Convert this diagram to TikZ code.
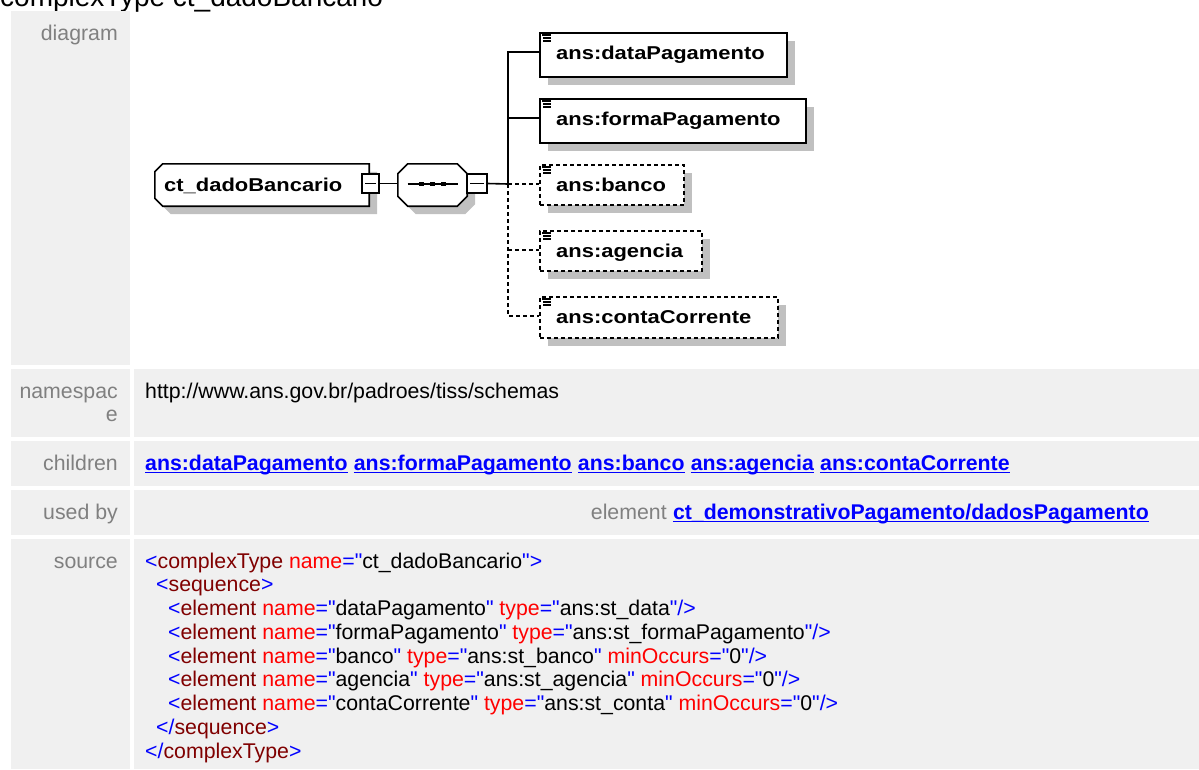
\documentclass[tikz,border=0pt]{standalone}
\usepackage{fontspec}
\setmainfont{Liberation Sans}
\newfontfamily\srcfont{Liberation Sans}
\newfontfamily\diagfont[FakeStretch=1.18]{Liberation Sans}
\usetikzlibrary{shadows,calc}
\definecolor{cellgray}{HTML}{F0F0F0}
\definecolor{labgray}{HTML}{808080}
\definecolor{shadowgray}{HTML}{C0C0C0}
\definecolor{linkblue}{HTML}{0000FF}
\definecolor{elemred}{HTML}{800000}
\definecolor{attred}{HTML}{FF0000}
\newcommand\htmlsize{\fontsize{21.3}{23.75}\selectfont}
\newcommand\srcm[1]{\textcolor{linkblue}{#1}}
\newcommand\srce[1]{\textcolor{elemred}{#1}}
\newcommand\srca[1]{\textcolor{attred}{#1}}
\newcommand\srcv[1]{\textcolor{black}{#1}}
\tikzset{
  lab/.style={anchor=base east, inner sep=0, text=labgray, font=\htmlsize},
  txt/.style={anchor=base west, inner sep=0, font=\htmlsize},
  srctxt/.style={anchor=base west, inner sep=0, font=\srcfont\htmlsize},
  link/.style={anchor=base west, inner sep=0, text=linkblue, font=\htmlsize\bfseries},
  ul/.style={draw=linkblue, line width=1.4pt},
  shad/.style={general shadow={fill=shadowgray, shadow xshift=8pt, shadow yshift=-8pt}},
  outline/.style={draw=black, fill=white, line width=1.6pt, shad},
  elem/.style={rectangle, draw=black, fill=white, line width=1.6pt, inner sep=0, anchor=north west, shad},
  optelem/.style={elem, dash pattern=on 4pt off 3pt},
  dtext/.style={anchor=base west, inner sep=0, font=\diagfont\fontsize{18.6}{20}\selectfont\bfseries},
  conn/.style={draw=black, line width=1.6pt},
  optconn/.style={conn, dash pattern=on 4pt off 3pt},
  area/.style={rectangle, inner sep=0},
  minusbox/.style={rectangle, draw=black, fill=white, line width=1.3pt, inner sep=0,
    minimum width=17pt, minimum height=19pt,
    path picture={\draw[line width=1.3pt] ([xshift=3pt]path picture bounding box.west) -- ([xshift=-3pt]path picture bounding box.east);}},
  icon/.style={line width=1.3pt, draw=black},
}
\begin{document}
\begin{tikzpicture}[x=1pt, y=-1pt]
\useasboundingbox (0,0) rectangle (1199,769);
\clip (0,0) rectangle (1199,769);
% title (cut off at the top edge, as in the reference)
\node[anchor=base west, inner sep=0, font=\fontsize{28}{30}\selectfont] (title) at (0,6) {complexType ct\_dadoBancario};
% table cells
\fill[cellgray] (11,11) rectangle (130,365);
\fill[cellgray] (11,369) rectangle (130,437);
\fill[cellgray] (134,369) rectangle (1199,437);
\fill[cellgray] (11,441) rectangle (130,486);
\fill[cellgray] (134,441) rectangle (1199,486);
\fill[cellgray] (11,490) rectangle (130,535);
\fill[cellgray] (134,490) rectangle (1199,535);
\fill[cellgray] (11,539) rectangle (130,769);
\fill[cellgray] (134,539) rectangle (1199,769);
% labels
\node[lab] (l1) at (118,40.5) {diagram};
\node[lab] (l2a) at (118,398) {namespac};
\node[lab] (l2b) at (118,421.5) {e};
\node[lab] (l3) at (118,470) {children};
\node[lab] (l4) at (118,519) {used by};
\node[lab] (l5) at (118,568) {source};
% namespace
\node[txt] (ns) at (145,398) {http://www.ans.gov.br/padroes/tiss/schemas};
% children
\node[link] (c1) at (145,470) {ans:dataPagamento};
\node[link] (c2) at ([xshift=5.9pt]c1.base east) {ans:formaPagamento};
\node[link] (c3) at ([xshift=5.9pt]c2.base east) {ans:banco};
\node[link] (c4) at ([xshift=5.9pt]c3.base east) {ans:agencia};
\node[link] (c5) at ([xshift=5.9pt]c4.base east) {ans:contaCorrente};
% used by
\node[link, anchor=base east] (ub) at (1149,519) {ct\_demonstrativoPagamento/dadosPagamento};
\node[lab] (ube) at ([xshift=-5.9pt]ub.base west) {element};
\foreach \n in {c1,c2,c3,c4,c5,ub}
  \draw[ul] ([yshift=-2.6pt]\n.base west) -- ([yshift=-2.6pt]\n.base east);
% source
\node[srctxt] (s1) at (145,568) {\srcm{<}\srce{complexType}\ \srca{name}\srcm{="}\srcv{ct\_dadoBancario}\srcm{">}};
\node[srctxt] (s2) at (156,591.75) {\srcm{<}\srce{sequence}\srcm{>}};
\node[srctxt] (s3) at (168,615.5) {\srcm{<}\srce{element}\ \srca{name}\srcm{="}\srcv{dataPagamento}\srcm{"}\ \srca{type}\srcm{="}\srcv{ans:st\_data}\srcm{"/>}};
\node[srctxt] (s4) at (168,639.25) {\srcm{<}\srce{element}\ \srca{name}\srcm{="}\srcv{formaPagamento}\srcm{"}\ \srca{type}\srcm{="}\srcv{ans:st\_formaPagamento}\srcm{"/>}};
\node[srctxt] (s5) at (168,663) {\srcm{<}\srce{element}\ \srca{name}\srcm{="}\srcv{banco}\srcm{"}\ \srca{type}\srcm{="}\srcv{ans:st\_banco}\srcm{"}\ \srca{minOccurs}\srcm{="}\srcv{0}\srcm{"/>}};
\node[srctxt] (s6) at (168,686.75) {\srcm{<}\srce{element}\ \srca{name}\srcm{="}\srcv{agencia}\srcm{"}\ \srca{type}\srcm{="}\srcv{ans:st\_agencia}\srcm{"}\ \srca{minOccurs}\srcm{="}\srcv{0}\srcm{"/>}};
\node[srctxt] (s7) at (168,710.5) {\srcm{<}\srce{element}\ \srca{name}\srcm{="}\srcv{contaCorrente}\srcm{"}\ \srca{type}\srcm{="}\srcv{ans:st\_conta}\srcm{"}\ \srca{minOccurs}\srcm{="}\srcv{0}\srcm{"/>}};
\node[srctxt] (s8) at (156,734.25) {\srcm{</}\srce{sequence}\srcm{>}};
\node[srctxt] (s9) at (145,758) {\srcm{</}\srce{complexType}\srcm{>}};
% ===== diagram =====
\node[area, minimum width=214pt, minimum height=42pt] (ct) at (262,185) {};
\path[outline] ([xshift=8pt]ct.north west) -- (ct.north east) -- (ct.south east)
  -- ([xshift=8pt]ct.south west) -- ([yshift=8pt]ct.south west) -- ([yshift=-8pt]ct.north west) -- cycle;
\node[dtext] (ctl) at (164,191) {ct\_dadoBancario};
\node[minusbox] (ctm) at (370.5,183.5) {};
\node[area, minimum width=69pt, minimum height=42pt] (seq) at (432.5,185) {};
\path[outline] ([xshift=10pt]seq.north west) -- ([xshift=-10pt]seq.north east) -- ([yshift=-10pt]seq.north east)
  -- ([yshift=10pt]seq.south east) -- ([xshift=-10pt]seq.south east) -- ([xshift=10pt]seq.south west)
  -- ([yshift=10pt]seq.south west) -- ([yshift=-10pt]seq.north west) -- cycle;
\draw[line width=1.3pt] ([xshift=-25pt,yshift=1pt]seq.center) -- ([xshift=25pt,yshift=1pt]seq.center);
\foreach \dx in {-11,0,11}
  \fill ([xshift=\dx pt-2.5pt,yshift=-1pt]seq.center) rectangle ([xshift=\dx pt+2.5pt,yshift=3pt]seq.center);
\node[minusbox, minimum width=20pt] (seqm) at (477,183.5) {};
\draw[conn] (ctm.east) -- (seqm.west -| seq.west);
% elements
\node[elem, minimum width=247pt, minimum height=44pt] (dp) at (539,32) {};
\node[elem, minimum width=266pt, minimum height=44pt] (fp) at (539,98) {};
\node[optelem, minimum width=144pt, minimum height=40pt] (bk) at (539,164) {};
\node[optelem, minimum width=162pt, minimum height=40pt] (ag) at (539,230) {};
\node[optelem, minimum width=238pt, minimum height=41pt] (cc) at (539,296) {};
\foreach \n/\t in {dp/ans:dataPagamento, fp/ans:formaPagamento, bk/ans:banco, ag/ans:agencia, cc/ans:contaCorrente}{
  \node[dtext] (\n l) at ([xshift=17pt,yshift=-27pt]\n.north west) {\t};
  \draw[icon] ([xshift=3pt,yshift=-3pt]\n.north west) -- ([xshift=12pt,yshift=-3pt]\n.north west);
  \draw[icon] ([xshift=4pt,yshift=-6pt]\n.north west) -- ([xshift=12pt,yshift=-6pt]\n.north west);
  \draw[icon] ([xshift=4pt,yshift=-9pt]\n.north west) -- ([xshift=12pt,yshift=-9pt]\n.north west);
}
% connectors
\coordinate (bus) at (508,184);
\draw[conn] (seqm.east) -- (bus);
\draw[conn] ([yshift=-20pt]dp.north west) -| (bus);
\draw[conn] ([yshift=-20pt]fp.north west) -- ([yshift=-20pt]fp.north west -| bus);
\draw[optconn] (bus) -- ([yshift=-20pt]bk.north west);
\draw[optconn] (bus) |- ([yshift=-20pt]cc.north west);
\draw[optconn] ([yshift=-20pt]ag.north west -| bus) -- ([yshift=-20pt]ag.north west);
\end{tikzpicture}
\end{document}
